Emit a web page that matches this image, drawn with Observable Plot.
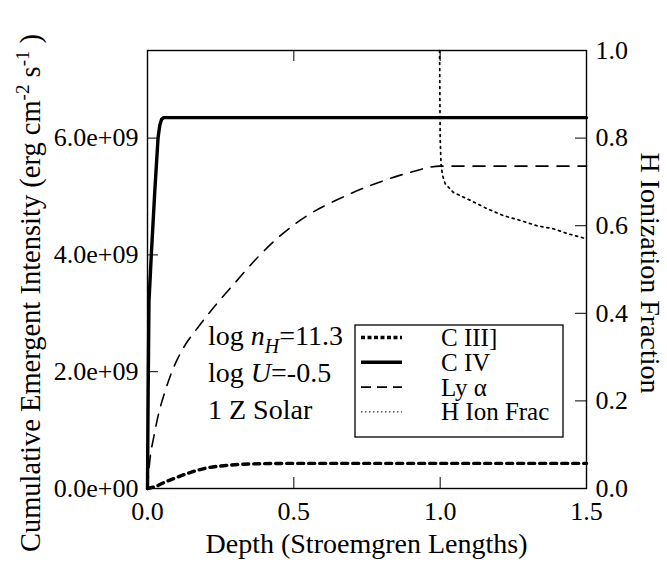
<!DOCTYPE html>
<html><head><meta charset="utf-8">
<script src="https://cdn.jsdelivr.net/npm/d3@7"></script>
<script src="https://cdn.jsdelivr.net/npm/@observablehq/plot@0.6"></script>
<style>
body{margin:0;background:#fff}
svg{font-family:"Liberation Serif","DejaVu Serif",serif}
</style>
</head><body><div id="chart"></div>
<script>
// ---- data ----
const depthCIII = [0, 0.03, 0.06, 0.09, 0.15, 0.2, 0.26, 0.35, 0.5, 1.0, 1.5];
const intCIII   = [0, 0.04, 0.11, 0.17, 0.28, 0.35, 0.39, 0.42, 0.43, 0.43, 0.43]; // 1e9
const depthCIV  = [0, 0.002, 0.005, 0.013, 0.025, 0.036, 0.042, 0.048, 0.055, 0.07, 1.5];
const intCIV    = [0, 1.5, 3.2, 4.0, 5.1, 6.0, 6.22, 6.32, 6.35, 6.35, 6.35];
const depthLya  = [0, 0.008, 0.021, 0.038, 0.061, 0.089, 0.123, 0.171, 0.226, 0.295, 0.375, 0.454, 0.545, 0.659, 0.773, 0.888, 1.0, 1.5];
const intLya    = [0, 0.48, 0.87, 1.28, 1.68, 2.07, 2.41, 2.75, 3.10, 3.50, 3.95, 4.33, 4.67, 4.97, 5.21, 5.40, 5.52, 5.52];
const depthHIon = [0.998, 0.999, 1.0, 1.003, 1.008, 1.017, 1.045, 1.103, 1.16, 1.216, 1.274, 1.33, 1.387, 1.435, 1.5];
const fracHIon  = [1.0, 0.9, 0.8, 0.74, 0.715, 0.696, 0.676, 0.658, 0.639, 0.623, 0.612, 0.600, 0.593, 0.582, 0.57];

const xTicks = [0, 0.5, 1.0, 1.5];
const xTickLabels = ["0.0", "0.5", "1.0", "1.5"];
const leftTicks = [0, 2e9, 4e9, 6e9];
const leftTickLabels = ["0.0e+00", "2.0e+09", "4.0e+09", "6.0e+09"];
const rightTicks = [0, 0.2, 0.4, 0.6, 0.8, 1.0];
const rightTickLabels = ["0.0", "0.2", "0.4", "0.6", "0.8", "1.0"];
const seriesNames = ["C III]", "C IV", "Ly \u03b1", "H Ion Frac"];
const yMax = 7.5e9;

const rows = (xs, ys, k) => xs.map((x, i) => ({x, y: ys[i] * k}));
const dCIII = rows(depthCIII, intCIII, 1e9);
const dCIV = rows(depthCIV, intCIV, 1e9);
const dLya = rows(depthLya, intLya, 1e9);
const dHIon = rows(depthHIon, fracHIon, yMax);

const W = 667, H = 567, mL = 147, mR = 81, mT = 50, mB = 79;
const fw = W - mL - mR, fh = H - mT - mB, tl = 11;

const plot = Plot.plot({
  width: W, height: H,
  marginLeft: mL, marginRight: mR, marginTop: mT, marginBottom: mB,
  style: {fontFamily: "Liberation Serif", fontSize: "26px", background: "white", color: "black", overflow: "visible"},
  x: {domain: [0, 1.5]},
  y: {domain: [0, yMax]},
  marks: [
    Plot.line(dCIII, {x: "x", y: "y", stroke: "black", strokeWidth: 3.4, strokeDasharray: "6,5", curve: "monotone-x"}),
    Plot.line(dLya, {x: "x", y: "y", stroke: "black", strokeWidth: 1.6, strokeDasharray: "12,9", curve: "monotone-x"}),
    Plot.line(dHIon, {x: "x", y: "y", stroke: "black", strokeWidth: 1.7, strokeDasharray: "2,4", curve: "linear"}),
    Plot.line(dCIV, {x: "x", y: "y", stroke: "black", strokeWidth: 3.4, curve: "linear"}),
    // inward ticks
    Plot.tickY(leftTicks, {y: d => d, insetRight: fw - tl, stroke: "black"}),
    Plot.tickY(rightTicks.map(r => r * yMax), {y: d => d, insetLeft: fw - tl, stroke: "black"}),
    Plot.tickX(xTicks, {x: d => d, insetTop: fh - tl, stroke: "black"}),
    Plot.tickX(xTicks, {x: d => d, insetBottom: fh - tl, stroke: "black"}),
    Plot.axisY(leftTicks, {anchor: "left", tickSize: 0, tickPadding: 9, label: null, fontSize: 26,
      tickFormat: d => leftTickLabels[leftTicks.indexOf(d)]}),
    Plot.axisY(rightTicks.map(r => r * yMax), {anchor: "right", tickSize: 0, tickPadding: 9, label: null, fontSize: 26,
      tickFormat: d => rightTickLabels[rightTicks.findIndex(r => Math.abs(r * yMax - d) < 1)]}),
    Plot.axisX(xTicks, {anchor: "bottom", tickSize: 0, tickPadding: 13, label: null, fontSize: 26,
      tickFormat: d => xTickLabels[xTicks.indexOf(d)]}),
    Plot.frame({stroke: "black", strokeWidth: 1.4})
  ]
});
document.getElementById("chart").appendChild(plot);

const svg = d3.select(plot);
const ff = "Liberation Serif";

// x title
svg.append("text").attr("x", mL + fw / 2).attr("y", 553).attr("text-anchor", "middle")
  .attr("font-size", 28).attr("font-family", ff).attr("fill", "black").text("Depth (Stroemgren Lengths)");

// left title with superscripts
const lt = svg.append("text").attr("transform", "translate(40,293) rotate(-90)").attr("text-anchor", "middle")
  .attr("font-size", 28.5).attr("font-family", ff).attr("fill", "black");
lt.append("tspan").text("Cumulative Emergent Intensity (erg cm");
lt.append("tspan").attr("dy", -11).attr("font-size", 19).text("-2");
lt.append("tspan").attr("dy", 11).text(" s");
lt.append("tspan").attr("dy", -11).attr("font-size", 19).text("-1");
lt.append("tspan").attr("dy", 11).text(" )");

// right title
svg.append("text").attr("transform", "translate(641,273) rotate(90)").attr("text-anchor", "middle")
  .attr("font-size", 28).attr("font-family", ff).attr("fill", "black").text("H Ionization Fraction");

// annotation
const ann = svg.append("g").attr("font-family", ff).attr("font-size", 28).attr("fill", "black").attr("text-anchor", "start");
const a1 = ann.append("text").attr("x", 208).attr("y", 345);
a1.append("tspan").text("log ");
a1.append("tspan").attr("font-style", "italic").text("n");
a1.append("tspan").attr("font-style", "italic").attr("font-size", 20).attr("dy", 8).text("H");
a1.append("tspan").attr("dy", -8).text("=11.3");
const a2 = ann.append("text").attr("x", 208).attr("y", 382);
a2.append("tspan").text("log ");
a2.append("tspan").attr("font-style", "italic").text("U");
a2.append("tspan").text("=-0.5");
ann.append("text").attr("x", 208).attr("y", 419).text("1 Z Solar");

// legend
const lg = svg.append("g").attr("font-family", ff).attr("font-size", 25).attr("fill", "black").attr("text-anchor", "start");
lg.append("rect").attr("x", 355).attr("y", 325).attr("width", 208).attr("height", 112)
  .attr("fill", "white").attr("stroke", "black").attr("stroke-width", 1.3);
const legStyles = [
  {w: 3.4, dash: "4,2.5"},
  {w: 3.4, dash: null},
  {w: 1.6, dash: "10,6"},
  {w: 1, dash: "1.5,2.5"}
];
seriesNames.forEach((name, i) => {
  const cy = 337.5 + i * 24.8;
  const ln = lg.append("line").attr("x1", 361).attr("x2", 402).attr("y1", cy).attr("y2", cy)
    .attr("stroke", "black").attr("stroke-width", legStyles[i].w);
  if (legStyles[i].dash) ln.attr("stroke-dasharray", legStyles[i].dash);
  lg.append("text").attr("x", 441).attr("y", cy + 8.5).text(name);
});
</script>
</body></html>
